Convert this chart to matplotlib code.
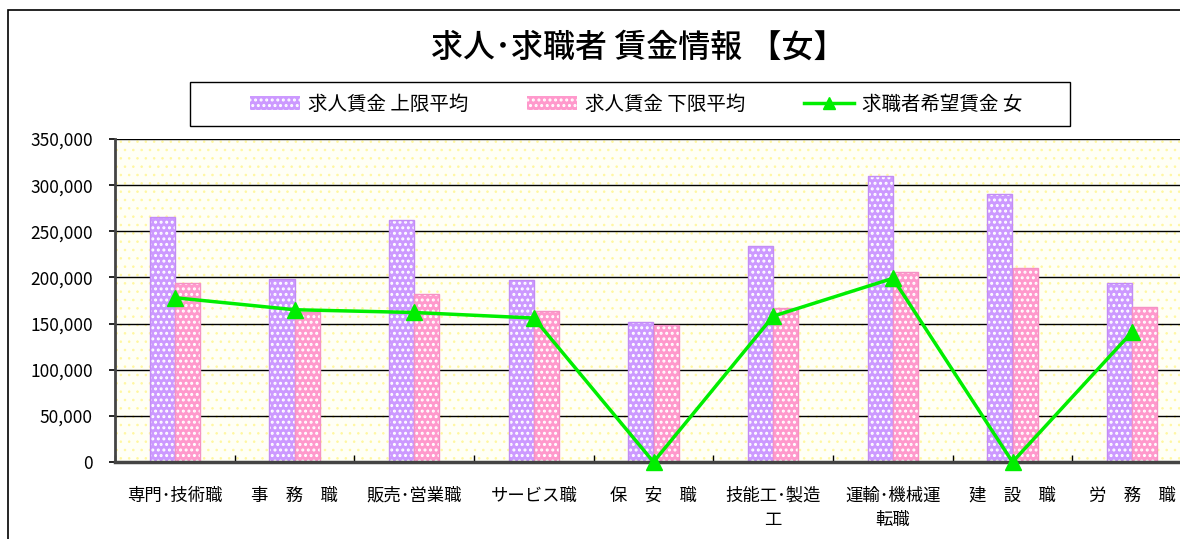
import matplotlib
matplotlib.use("Agg")
import matplotlib.pyplot as plt
from matplotlib.patches import Rectangle, Patch
from matplotlib.lines import Line2D
import numpy as np

plt.rcParams['font.family'] = ['Noto Sans CJK JP', 'DejaVu Sans']

categories = ["専門･技術職", "事　務　職", "販売･営業職", "サービス職", "保　安　職",
              "技能工･製造\n工", "運輸･機械運\n転職", "建　設　職", "労　務　職"]
upper_avg = [265000, 198000, 262000, 197000, 152000, 234000, 310000, 290000, 194000]
lower_avg = [194000, 162000, 182000, 164000, 148000, 167000, 206000, 210000, 168000]
seeker_wage = [178000, 165000, 162000, 156000, 0, 158000, 199000, 0, 141000]

series_names = ["求人賃金 上限平均", "求人賃金 下限平均", "求職者希望賃金 女"]
purple = "#CC99FF"
pink = "#FF99CC"
green = "#00EE00"

fig = plt.figure(figsize=(11.8, 5.39), dpi=100)
ax = fig.add_axes([115 / 1180, 1 - 462 / 539, (1192 - 115) / 1180, (462 - 139) / 539])

# dotted yellow background
ax.set_facecolor("#FFFFF6")
with plt.rc_context({"hatch.linewidth": 0.6}):
    ax.add_patch(Rectangle((0, 0), 1, 1, transform=ax.transAxes, facecolor="none",
                           edgecolor="#FFF7A0", hatch="..", lw=0, zorder=0))

plt.rcParams['hatch.linewidth'] = 1.4
x = np.arange(len(categories))
w = 0.21
ax.bar(x - w / 2, upper_avg, w, color=purple, edgecolor="white", hatch="...", lw=0, zorder=2)
ax.bar(x - w / 2, upper_avg, w, fill=False, edgecolor="#C38CF5", lw=1, zorder=2)
ax.bar(x + w / 2, lower_avg, w, color=pink, edgecolor="white", hatch="...", lw=0, zorder=2)
ax.bar(x + w / 2, lower_avg, w, fill=False, edgecolor="#F592C4", lw=1, zorder=2)
ax.plot(x, seeker_wage, color=green, lw=2.5, marker="^", markersize=11, zorder=4, clip_on=False)

ax.set_xlim(-0.5, len(categories) - 0.5)
ax.set_ylim(0, 350000)
ax.set_yticks(np.arange(0, 350001, 50000))
ax.set_yticklabels([f"{v:,}" for v in range(0, 350001, 50000)], fontsize=12.5)
ax.yaxis.grid(True, color="black", lw=1, zorder=1)
ax.set_axisbelow(True)
ax.tick_params(axis="y", length=4, width=1.2, pad=12)

ax.set_xticks(x)
ax.set_xticklabels(categories, fontsize=12.5, linespacing=1.4)
ax.tick_params(axis="x", length=0, pad=18)
ax.set_xticks(np.arange(len(categories) + 1) - 0.5, minor=True)
ax.tick_params(axis="x", which="minor", direction="in", length=5, width=1)

for side in ["top", "right"]:
    ax.spines[side].set_visible(False)
ax.spines["left"].set_color("#444444")
ax.spines["left"].set_linewidth(2)
ax.spines["bottom"].set_color("#444444")
ax.spines["bottom"].set_linewidth(2.5)

handles = [
    Patch(facecolor=purple, edgecolor="white", hatch="...", lw=0),
    Patch(facecolor=pink, edgecolor="white", hatch="...", lw=0),
    Line2D([], [], color=green, lw=2.5, marker="^", markersize=8),
]
leg = fig.legend(handles, series_names, loc="center", bbox_to_anchor=(636 / 1180, 1 - 104 / 539),
                 ncol=3, fontsize=14, frameon=False, handlelength=2.6,
                 handletextpad=0.4, columnspacing=3.0)
# legend box
fig.add_artist(Rectangle((190 / 1180, 1 - 126 / 539), 880 / 1180, 44 / 539,
                         transform=fig.transFigure, fill=False, edgecolor="black", lw=1))

fig.suptitle("求人･求職者 賃金情報 【女】", x=638 / 1180, y=1 - 48 / 539, va="center",
             fontsize=23, fontweight="medium")

# outer chart frame
fig.add_artist(Rectangle((8 / 1180, -0.1), 1.2, 1.1 - 10 / 539, transform=fig.transFigure,
                         fill=False, edgecolor="black", lw=1.2))

fig.savefig("out.png", dpi=100)
